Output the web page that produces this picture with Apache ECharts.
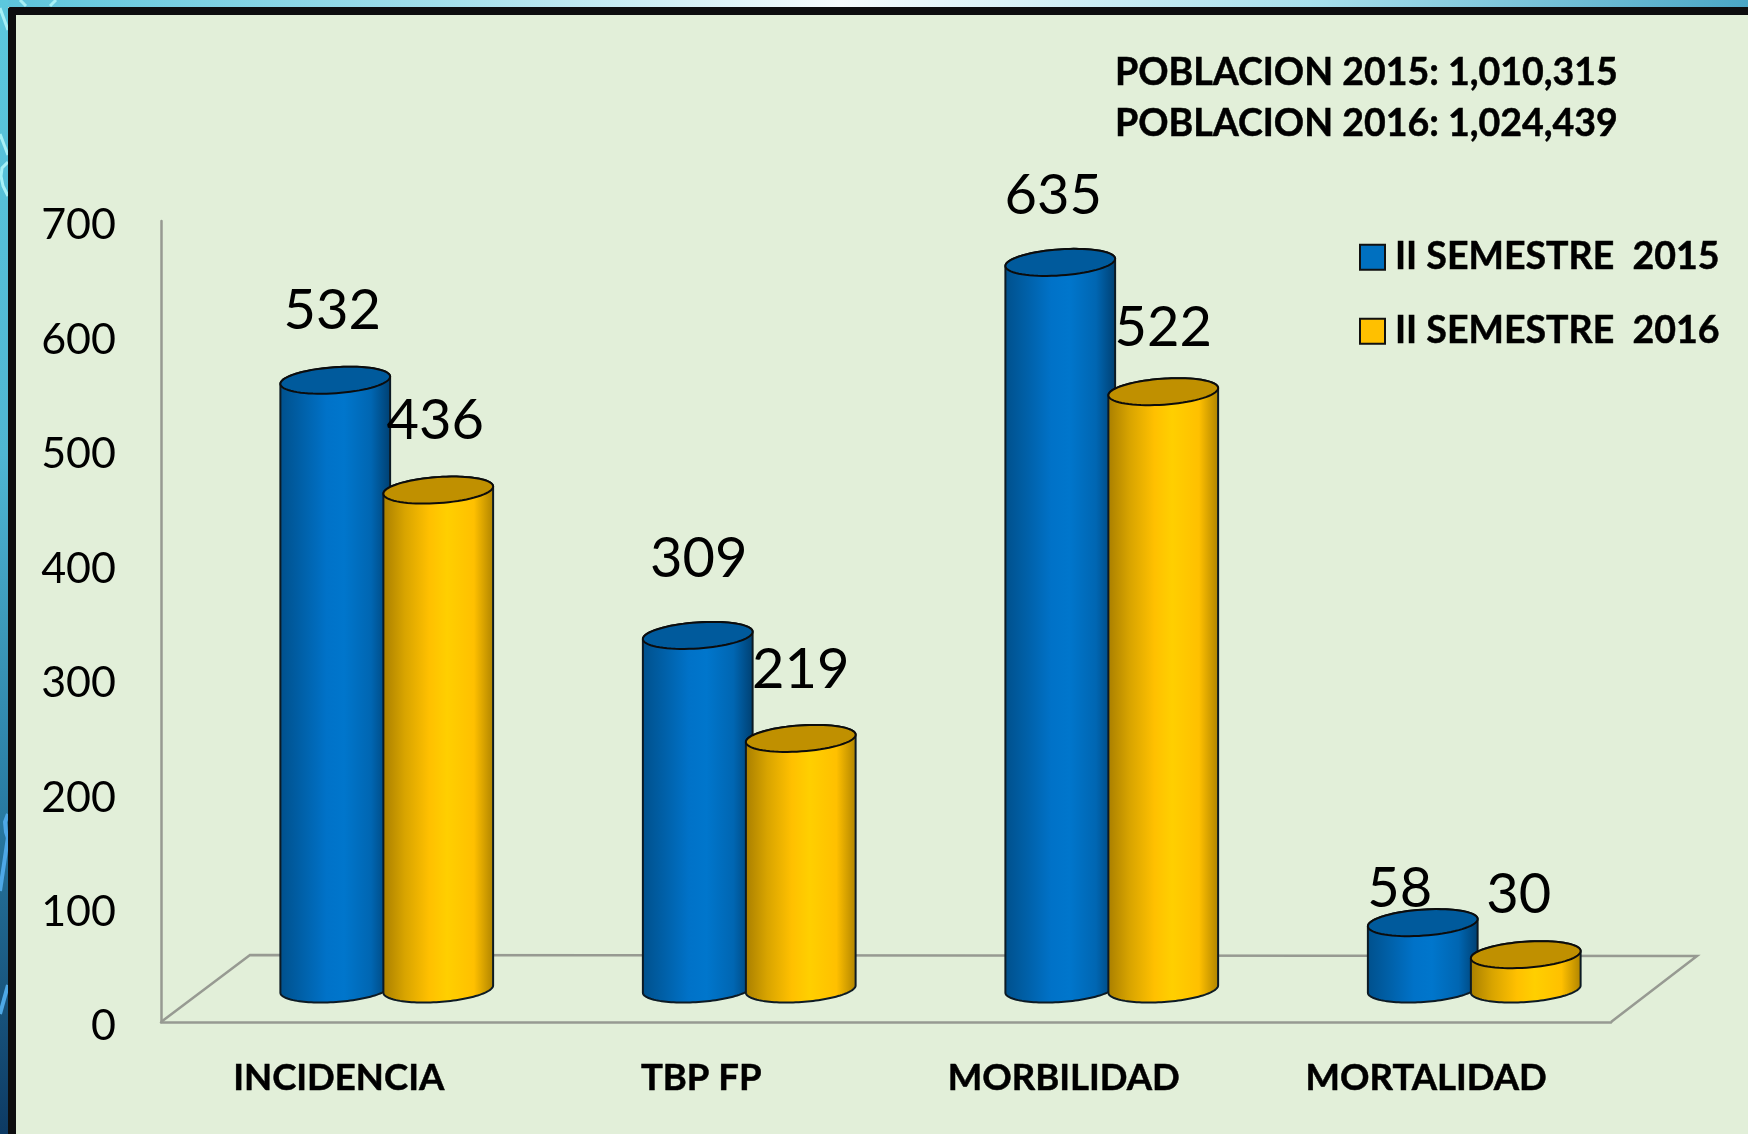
<!DOCTYPE html>
<html><head><meta charset="utf-8">
<style>html,body{margin:0;padding:0;background:#e2efd9}#c{width:1748px;height:1134px}</style>
<script src="https://cdn.jsdelivr.net/npm/echarts@6/dist/echarts.min.js"></script>
</head><body><div id="c"></div>
<script>
const categories = ['INCIDENCIA','TBP FP','MORBILIDAD','MORTALIDAD'];
const seriesNames = ['II SEMESTRE  2015','II SEMESTRE  2016'];
const values2015 = [532,309,635,58];
const values2016 = [436,219,522,30];
const yTicks = {min:0,max:700,interval:100};
const populationNote = 'POBLACION 2015: 1,010,315\nPOBLACION 2016: 1,024,439';

// per-label nudges (dx, dy from the cylinder's top centre)
const nudge2015 = [[-3,-69],[1,-76],[-7,-66],[-23,-34]];
const nudge2016 = [[-3,-69],[0,-68],[0,-64],[-7,-60]];

const FONT='Lato';
const RX=55, RY=13, TILT=-4*Math.PI/180, LIFT=33;
const BLUE={grad:['#00508c','#0060a8','#0072c8','#0076cc','#0066b2','#003f70'],top:'#005a9c',legend:'#0070c0'};
const GOLD={grad:['#a87e00','#d8a400','#ffc000','#ffcf00','#ffc000','#ad8200'],top:'#c09000',legend:'#ffc000'};

function ell(cx,cy,t){
  return [cx+RX*Math.cos(t)*Math.cos(TILT)-RY*Math.sin(t)*Math.sin(TILT),
          cy+RX*Math.cos(t)*Math.sin(TILT)+RY*Math.sin(t)*Math.cos(TILT)];
}
function cyl(pal,off,nudges){
  return function(params,api){
    const i=api.value(0), v=api.value(1);
    const base=api.coord([i,0]), top=api.coord([i,v]);
    const cx=base[0]+off, by=base[1]-LIFT, ty=top[1]-LIFT;
    const bottom=[];for(let k=0;k<=60;k++){bottom.push(ell(cx,by,Math.PI-Math.PI*k/60));}
    const upper=[];for(let k=0;k<=60;k++){upper.push(ell(cx,ty,-Math.PI*k/60));}
    const body=bottom.concat(upper);
    const g=new echarts.graphic.LinearGradient(0,0,1,0,[
      {offset:0,color:pal.grad[0]},{offset:.2,color:pal.grad[1]},{offset:.42,color:pal.grad[2]},
      {offset:.58,color:pal.grad[3]},{offset:.82,color:pal.grad[4]},{offset:1,color:pal.grad[5]}]);
    const topPts=[];for(let k=0;k<72;k++){topPts.push(ell(cx,ty,2*Math.PI*k/72));}
    const n=nudges[i];
    return {type:'group',children:[
      {type:'polygon',shape:{points:body},style:{fill:g,stroke:'#0c1a24',lineWidth:2}},
      {type:'polygon',shape:{points:topPts},style:{fill:pal.top,stroke:'#0c0c0c',lineWidth:2}},
      {type:'text',style:{text:String(v),x:cx+n[0],y:ty+n[1],align:'center',verticalAlign:'middle',
        font:'56px '+FONT,fill:'#000'},z2:20}
    ]};
  };
}
function floor(params,api){
  const cs=params.coordSys, l=cs.x, b=cs.y+cs.height, r=cs.x+cs.width;
  return {type:'polyline',shape:{points:[[l,b],[l+89,b-67],[r+86,b-66],[r,b]]},
          style:{fill:'none',stroke:'#979a92',lineWidth:2.5}};
}
function swirl(points,color,w){return {type:'polyline',z:-9.5,shape:{points},style:{fill:'none',stroke:color,lineWidth:w}};}
const chart=echarts.init(document.getElementById('c'),null,{renderer:'canvas'});
chart.setOption({
  animation:false,
  backgroundColor:'#e2efd9',
  graphic:[
    {type:'rect',z:-10,shape:{x:0,y:0,width:1748,height:7},style:{fill:new echarts.graphic.LinearGradient(0,0,1,0,[
       {offset:0,color:'#5cc4dc'},{offset:.25,color:'#a2deeb'},{offset:.48,color:'#f6fbfd'},{offset:.75,color:'#a8dfec'},{offset:1,color:'#4aa6c6'}])}},
    {type:'rect',z:-10,shape:{x:0,y:0,width:8,height:1134},style:{fill:new echarts.graphic.LinearGradient(0,0,0,1,[
       {offset:0,color:'#5cc8dd'},{offset:.4,color:'#4fb6d2'},{offset:.7,color:'#2a7ea5'},{offset:1,color:'#0d3a64'}])}},
    swirl([[0,8],[8,30]],'#a6f0f6',3),
    swirl([[0,134],[8,155]],'#a6f0f6',3),
    swirl([[8,162],[2,168],[1,176],[3,186],[8,196]],'#a6f0f6',3),
    swirl([[0,891],[8,837]],'#4ea8e6',4),
    swirl([[0,1014],[8,985]],'#4ea8e6',4),
    swirl([[8,814],[5,822],[6,832],[8,838]],'#4ea8e6',4),
    swirl([[20,0],[26,6]],'#a6f0f6',3),
    swirl([[56,0],[50,6]],'#a6f0f6',3),
    {type:'rect',z:-9,shape:{x:8,y:7,width:1748,height:8,r:[3,0,0,0]},style:{fill:'#0d0d0f'}},
    {type:'rect',z:-9,shape:{x:8,y:7,width:8,height:1134,r:[3,0,0,0]},style:{fill:'#0d0d0f'}}
  ],
  title:{text:populationNote,left:1115,top:47.5,padding:0,textStyle:{fontFamily:FONT,fontWeight:'bold',fontSize:37.5,lineHeight:51,color:'#000',textBorderColor:'#000',textBorderWidth:0.5}},
  legend:{orient:'vertical',left:1354,top:233,itemWidth:25,itemHeight:25,itemGap:35.5,icon:'rect',
    data:seriesNames,selectedMode:false,
    textStyle:{fontFamily:FONT,fontWeight:'bold',fontSize:37.5,color:'#000',padding:[0,0,0,5],textBorderColor:'#000',textBorderWidth:0.5}},
  grid:{left:161,top:221,width:1450,height:801,containLabel:false},
  xAxis:{type:'category',data:categories,boundaryGap:true,
    axisLine:{lineStyle:{color:'#979a92',width:2.5}},axisTick:{show:false},
    axisLabel:{fontFamily:FONT,fontWeight:'bold',fontSize:36.5,color:'#000',margin:38,interval:0,padding:[0,7,0,0],textBorderColor:'#000',textBorderWidth:0.5},
    splitLine:{show:false}},
  yAxis:{type:'value',min:yTicks.min,max:yTicks.max,interval:yTicks.interval,
    axisLine:{show:true,lineStyle:{color:'#979a92',width:2.5}},axisTick:{show:false},
    axisLabel:{fontFamily:FONT,fontSize:43,color:'#000',margin:45,verticalAlign:'top',lineHeight:9},
    splitLine:{show:false}},
  series:[
    {type:'custom',name:'floor',data:[[0,0]],renderItem:floor,silent:true,z:1,encode:{x:0,y:1}},
    {type:'custom',name:seriesNames[0],data:values2015.map((v,i)=>[i,v]),renderItem:cyl(BLUE,-7,nudge2015),z:2,
     itemStyle:{color:BLUE.legend,borderColor:'#111',borderWidth:1.5},encode:{x:0,y:1}},
    {type:'custom',name:seriesNames[1],data:values2016.map((v,i)=>[i,v]),renderItem:cyl(GOLD,96,nudge2016),z:3,
     itemStyle:{color:GOLD.legend,borderColor:'#111',borderWidth:1.5},encode:{x:0,y:1}}
  ]
});
</script></body></html>
